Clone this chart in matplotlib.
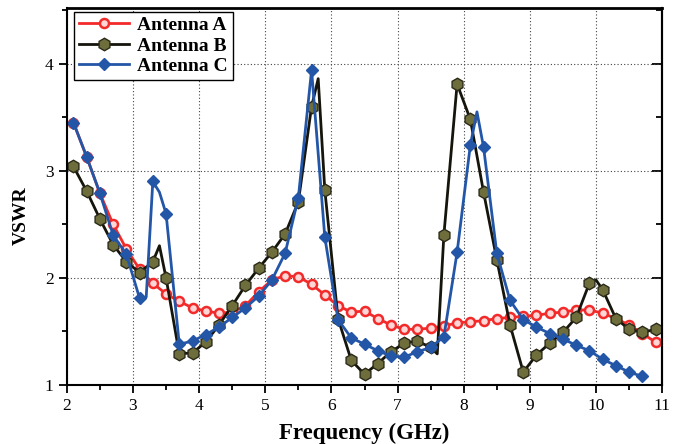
import numpy as np
import matplotlib
matplotlib.use("Agg")
import matplotlib.pyplot as plt
from matplotlib.ticker import MultipleLocator

plt.rcParams['font.family'] = ['Liberation Serif', 'DejaVu Serif']

# VSWR vs frequency (GHz); markers sit on the odd tenths (2.1, 2.3, ...)
freq_a = [2.1, 2.3, 2.5, 2.7, 2.9, 3.1, 3.3, 3.5, 3.7, 3.9, 4.1, 4.3, 4.5, 4.7,
          4.9, 5.1, 5.3, 5.5, 5.7, 5.9, 6.1, 6.3, 6.5, 6.7, 6.9, 7.1, 7.3, 7.5,
          7.7, 7.9, 8.1, 8.3, 8.5, 8.7, 8.9, 9.1, 9.3, 9.5, 9.7, 9.9, 10.1, 10.3,
          10.5, 10.7, 10.9, 11.0]
vswr_a = [3.45, 3.13, 2.79, 2.50, 2.27, 2.08, 1.95, 1.85, 1.78, 1.72, 1.69, 1.67,
          1.68, 1.74, 1.87, 1.98, 2.02, 2.01, 1.94, 1.84, 1.74, 1.68, 1.69, 1.62,
          1.56, 1.52, 1.52, 1.53, 1.55, 1.58, 1.59, 1.60, 1.62, 1.63, 1.64, 1.65,
          1.67, 1.68, 1.70, 1.70, 1.67, 1.62, 1.56, 1.48, 1.40, 1.38]

freq_b = [2.1, 2.3, 2.5, 2.7, 2.9, 3.1, 3.3, 3.4, 3.5, 3.7, 3.9, 4.1, 4.3, 4.5,
          4.7, 4.9, 5.1, 5.3, 5.5, 5.7, 5.8, 5.9, 6.1, 6.3, 6.5, 6.7, 6.9, 7.1,
          7.3, 7.5, 7.6, 7.7, 7.9, 8.1, 8.3, 8.5, 8.7, 8.9, 9.1, 9.3, 9.5, 9.7,
          9.9, 10.0, 10.1, 10.3, 10.5, 10.7, 10.9, 11.0]
vswr_b = [3.04, 2.81, 2.55, 2.31, 2.15, 2.05, 2.15, 2.30, 2.00, 1.29, 1.30, 1.40,
          1.56, 1.74, 1.93, 2.09, 2.24, 2.41, 2.71, 3.60, 3.86, 2.82, 1.62, 1.23,
          1.10, 1.20, 1.31, 1.39, 1.41, 1.35, 1.29, 2.40, 3.81, 3.48, 2.80, 2.17,
          1.56, 1.12, 1.28, 1.39, 1.49, 1.63, 1.95, 1.98, 1.89, 1.62, 1.52, 1.49,
          1.52, 1.52]

freq_c = [2.1, 2.3, 2.5, 2.7, 2.9, 3.1, 3.2, 3.3, 3.4, 3.5, 3.7, 3.9, 4.1, 4.3,
          4.5, 4.7, 4.9, 5.1, 5.3, 5.5, 5.7, 5.9, 6.1, 6.3, 6.5, 6.7, 6.9, 7.1,
          7.3, 7.5, 7.7, 7.9, 8.1, 8.2, 8.3, 8.5, 8.7, 8.9, 9.1, 9.3, 9.5, 9.7,
          9.9, 10.1, 10.3, 10.5, 10.7]
vswr_c = [3.45, 3.13, 2.79, 2.40, 2.22, 1.81, 1.82, 2.90, 2.80, 2.60, 1.38, 1.41,
          1.47, 1.54, 1.63, 1.72, 1.83, 1.98, 2.23, 2.75, 3.94, 2.38, 1.61, 1.44,
          1.38, 1.32, 1.27, 1.26, 1.31, 1.35, 1.45, 2.24, 3.24, 3.55, 3.22, 2.23,
          1.79, 1.61, 1.54, 1.48, 1.43, 1.37, 1.32, 1.24, 1.18, 1.12, 1.08]


def marked(freq):
    return [i for i, f in enumerate(freq) if round(f * 10) % 2 == 1]


fig = plt.figure(figsize=(6.75, 4.44), dpi=100)
ax = fig.add_axes([0.099, 0.133, 0.882, 0.849])

ax.plot(freq_a, vswr_a, color='#f22a2a', lw=2, marker='o', ms=6.5,
        mfc='#ffd6d6', mec='#f22a2a', mew=1.8, markevery=marked(freq_a),
        label='Antenna A')
ax.plot(freq_b, vswr_b, color='#15150c', lw=2, marker='h', ms=9,
        mfc='#6e6d3c', mec='#2b2a18', mew=1.0, markevery=marked(freq_b),
        label='Antenna B')
ax.plot(freq_c, vswr_c, color='#2456a8', lw=2, marker='D', ms=6.5,
        mfc='#2456a8', mec='#2456a8', markevery=marked(freq_c),
        label='Antenna C')

ax.set_xlim(2, 11)
ax.set_ylim(1.0, 4.52)
ax.xaxis.set_major_locator(MultipleLocator(1))
ax.xaxis.set_minor_locator(MultipleLocator(0.5))
ax.yaxis.set_major_locator(MultipleLocator(1))
ax.yaxis.set_minor_locator(MultipleLocator(0.5))

ax.tick_params(which='both', direction='out', labelsize=12.5, width=1.3)
ax.tick_params(which='major', length=6)
ax.tick_params(which='minor', length=3.5)

# inward ticks on the right edge, no labels
right = ax.secondary_yaxis('right')
right.yaxis.set_major_locator(MultipleLocator(1))
right.yaxis.set_minor_locator(MultipleLocator(0.5))
right.tick_params(which='both', direction='in', labelright=False, width=1.3)
right.tick_params(which='major', length=7)
right.tick_params(which='minor', length=4)
right.spines['right'].set_linewidth(1.5)

for s in ax.spines.values():
    s.set_linewidth(1.5)
ax.spines['top'].set_linewidth(2)

ax.grid(True, which='major', color='#444444', lw=0.8, ls=(0, (1, 2)))

ax.set_xlabel('Frequency (GHz)', fontsize=16.5, fontweight='bold', labelpad=6)
ax.set_ylabel('VSWR', fontsize=14, fontweight='bold')
ax.yaxis.set_label_coords(-0.062, 0.45)

leg = ax.legend(loc='upper left', bbox_to_anchor=(0.012, 0.99),
                prop={'weight': 'bold', 'size': 14}, handlelength=2.6,
                fancybox=False, framealpha=1, edgecolor='black',
                borderpad=0.25, labelspacing=0.15, handletextpad=0.4,
                borderaxespad=0)
leg.get_frame().set_linewidth(1.0)

fig.savefig('out.png', dpi=100)
